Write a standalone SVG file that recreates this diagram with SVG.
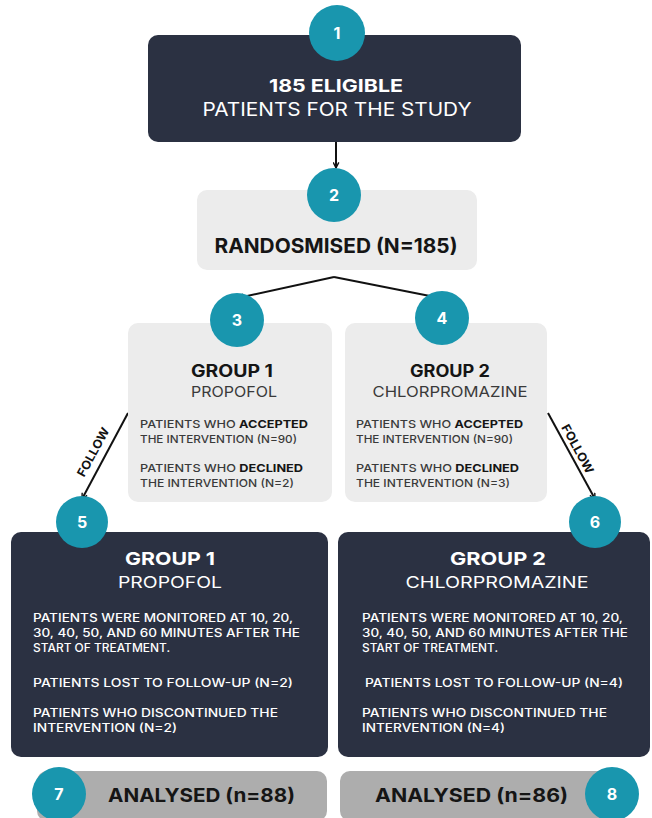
<svg xmlns="http://www.w3.org/2000/svg" width="652" height="818" viewBox="0 0 652 818">
<defs>
<style>
text{font-family:Inter,"Open Sans","Liberation Sans",sans-serif;}
.dark{fill:#2b3142;}
.light{fill:#ececec;}
.grey{fill:#adadad;}
.badge{fill:#1996ae;}
.num{fill:#ffffff;font-weight:700;font-size:16px;text-anchor:middle;}
.wt{fill:#ffffff;}
.bt{fill:#151515;}
.gt{fill:#3a3a3a;}
.b{font-weight:700;}
.r{font-weight:400;}
.c{text-anchor:middle;}
.sm{font-size:11px;font-weight:500;}
.md{font-size:11.5px;font-weight:500;}
.conn{stroke:#111111;stroke-width:2;fill:none;marker-end:url(#ah);}
.fl{font-size:12px;font-weight:700;fill:#111111;text-anchor:middle;}
</style>
<marker id="ah" viewBox="0 0 10 10" refX="9" refY="5" markerWidth="7" markerHeight="7" markerUnits="userSpaceOnUse" orient="auto">
<path d="M1,1 L9,5 L1,9" fill="none" stroke="#111111" stroke-width="2"/>
</marker>
</defs>
<rect width="652" height="818" fill="#ffffff"/>

<g id="connectors">
<line class="conn" x1="336" y1="142" x2="336" y2="168"/>
<line class="conn" x1="334" y1="277" x2="238" y2="298"/>
<line class="conn" x1="334" y1="277" x2="440" y2="298"/>
<line class="conn" x1="128" y1="413" x2="82" y2="499"/>
<line class="conn" x1="548" y1="413" x2="595" y2="499"/>
<text class="fl" transform="translate(97,454) rotate(-61.5)" textLength="54" lengthAdjust="spacingAndGlyphs">FOLLOW</text>
<text class="fl" transform="translate(574,451) rotate(61.5)" textLength="54" lengthAdjust="spacingAndGlyphs">FOLLOW</text>
</g>

<g id="node1">
<rect class="dark" x="148" y="35" width="373" height="107" rx="10"/>
<circle class="badge" cx="337" cy="33" r="28"/>
<text class="num" x="337" y="39">1</text>
<text class="wt b c" x="336" y="92" font-size="18" textLength="134" lengthAdjust="spacingAndGlyphs">185 ELIGIBLE</text>
<text class="wt r c" x="337" y="116" font-size="19" textLength="269" lengthAdjust="spacingAndGlyphs">PATIENTS FOR THE STUDY</text>
</g>

<g id="node2">
<rect class="light" x="197" y="190" width="280" height="80" rx="10"/>
<circle class="badge" cx="334" cy="195" r="27"/>
<text class="num" x="334" y="201">2</text>
<text class="bt b c" x="336" y="253" font-size="20" textLength="243" lengthAdjust="spacingAndGlyphs">RANDOSMISED (N=185)</text>
</g>

<g id="node3">
<rect class="light" x="128" y="323" width="204" height="179" rx="10"/>
<circle class="badge" cx="237" cy="320" r="27"/>
<text class="num" x="237" y="326">3</text>
<text class="bt b c" x="232" y="377" font-size="17" textLength="82" lengthAdjust="spacingAndGlyphs">GROUP 1</text>
<text class="gt r c" x="234" y="397" font-size="15" textLength="86" lengthAdjust="spacingAndGlyphs">PROPOFOL</text>
<text class="gt sm" x="140" y="428" textLength="168" lengthAdjust="spacingAndGlyphs">PATIENTS WHO <tspan class="bt b">ACCEPTED</tspan></text>
<text class="gt sm" x="140" y="443" textLength="157" lengthAdjust="spacingAndGlyphs">THE INTERVENTION (N=90)</text>
<text class="gt sm" x="140" y="472" textLength="163" lengthAdjust="spacingAndGlyphs">PATIENTS WHO <tspan class="bt b">DECLINED</tspan></text>
<text class="gt sm" x="140" y="487" textLength="154" lengthAdjust="spacingAndGlyphs">THE INTERVENTION (N=2)</text>
</g>

<g id="node4">
<rect class="light" x="345" y="323" width="202" height="179" rx="10"/>
<circle class="badge" cx="442" cy="318" r="27"/>
<text class="num" x="442" y="324">4</text>
<text class="bt b c" x="450" y="377" font-size="17" textLength="80" lengthAdjust="spacingAndGlyphs">GROUP 2</text>
<text class="gt r c" x="450" y="397" font-size="15" textLength="155" lengthAdjust="spacingAndGlyphs">CHLORPROMAZINE</text>
<text class="gt sm" x="356" y="428" textLength="167" lengthAdjust="spacingAndGlyphs">PATIENTS WHO <tspan class="bt b">ACCEPTED</tspan></text>
<text class="gt sm" x="356" y="443" textLength="157" lengthAdjust="spacingAndGlyphs">THE INTERVENTION (N=90)</text>
<text class="gt sm" x="356" y="472" textLength="163" lengthAdjust="spacingAndGlyphs">PATIENTS WHO <tspan class="bt b">DECLINED</tspan></text>
<text class="gt sm" x="356" y="487" textLength="154" lengthAdjust="spacingAndGlyphs">THE INTERVENTION (N=3)</text>
</g>

<g id="node5">
<rect class="dark" x="11" y="532" width="317" height="225" rx="10"/>
<circle class="badge" cx="82" cy="522" r="26"/>
<text class="num" x="82" y="528">5</text>
<text class="wt b c" x="170" y="565" font-size="18" textLength="90" lengthAdjust="spacingAndGlyphs">GROUP 1</text>
<text class="wt r c" x="170" y="588" font-size="16" textLength="104" lengthAdjust="spacingAndGlyphs">PROPOFOL</text>
<text class="wt md" x="33" y="622" textLength="260" lengthAdjust="spacingAndGlyphs">PATIENTS WERE MONITORED AT 10, 20,</text>
<text class="wt md" x="33" y="637" textLength="267" lengthAdjust="spacingAndGlyphs">30, 40, 50, AND 60 MINUTES AFTER THE</text>
<text class="wt md" x="33" y="652" textLength="137" lengthAdjust="spacingAndGlyphs">START OF TREATMENT.</text>
<text class="wt md" x="33" y="687" textLength="260" lengthAdjust="spacingAndGlyphs">PATIENTS LOST TO FOLLOW-UP (N=2)</text>
<text class="wt md" x="33" y="717" textLength="245" lengthAdjust="spacingAndGlyphs">PATIENTS WHO DISCONTINUED THE</text>
<text class="wt md" x="33" y="732" textLength="144" lengthAdjust="spacingAndGlyphs">INTERVENTION (N=2)</text>
</g>

<g id="node6">
<rect class="dark" x="338" y="532" width="312" height="225" rx="10"/>
<circle class="badge" cx="595" cy="522" r="26"/>
<text class="num" x="595" y="528">6</text>
<text class="wt b c" x="498" y="565" font-size="18" textLength="96" lengthAdjust="spacingAndGlyphs">GROUP 2</text>
<text class="wt r c" x="497" y="588" font-size="16" textLength="183" lengthAdjust="spacingAndGlyphs">CHLORPROMAZINE</text>
<text class="wt md" x="362" y="622" textLength="261" lengthAdjust="spacingAndGlyphs">PATIENTS WERE MONITORED AT 10, 20,</text>
<text class="wt md" x="362" y="637" textLength="266" lengthAdjust="spacingAndGlyphs">30, 40, 50, AND 60 MINUTES AFTER THE</text>
<text class="wt md" x="362" y="652" textLength="136" lengthAdjust="spacingAndGlyphs">START OF TREATMENT.</text>
<text class="wt md" x="365" y="687" textLength="258" lengthAdjust="spacingAndGlyphs">PATIENTS LOST TO FOLLOW-UP (N=4)</text>
<text class="wt md" x="362" y="717" textLength="245" lengthAdjust="spacingAndGlyphs">PATIENTS WHO DISCONTINUED THE</text>
<text class="wt md" x="362" y="732" textLength="143" lengthAdjust="spacingAndGlyphs">INTERVENTION (N=4)</text>
</g>

<g id="node7">
<rect class="grey" x="37" y="771" width="290" height="50" rx="10"/>
<circle class="badge" cx="59" cy="794" r="27"/>
<text class="num" x="59" y="800">7</text>
<text class="bt b" x="108" y="802" font-size="19" textLength="187" lengthAdjust="spacingAndGlyphs">ANALYSED (n=88)</text>
</g>

<g id="node8">
<rect class="grey" x="340" y="771" width="285" height="50" rx="10"/>
<circle class="badge" cx="612" cy="794" r="27"/>
<text class="num" x="612" y="800">8</text>
<text class="bt b" x="375" y="802" font-size="19" textLength="193" lengthAdjust="spacingAndGlyphs">ANALYSED (n=86)</text>
</g>
</svg>
